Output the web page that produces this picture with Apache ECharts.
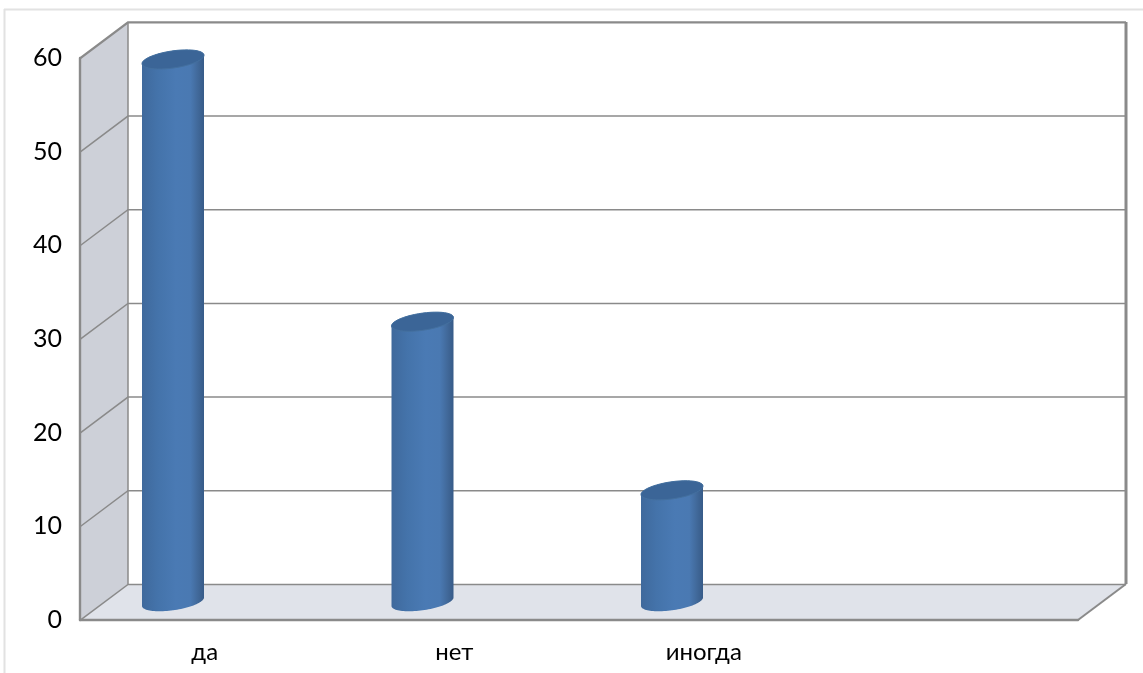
<!DOCTYPE html>
<html><head><meta charset="utf-8">
<style>html,body{margin:0;padding:0;background:#fff}#c{width:1143px;height:673px}</style>
<script src="https://cdn.jsdelivr.net/npm/echarts@6/dist/echarts.min.js"></script>
</head><body><div id="c"></div>
<script>
const categories = ['да', 'нет', 'иногда', ''];
const values = [58, 30, 12];
const yTicks = [0, 10, 20, 30, 40, 50, 60];

const depthX = 48, depthY = -36;      // oblique depth of the 3D box
const barShiftX = -31.75, barShiftY = -18.3; // bars stand mid-depth, left of band centre
const topNudge = 1;
const radiusX = 31, shearY = 4.2, radiusY = 8.6;
const LINE = '#8a8a8a';

const chart = echarts.init(document.getElementById('c'), null, {renderer: 'canvas'});

function ellipsePts(cx, cy, from, to) {
  const pts = [], n = 48;
  for (let k = 0; k <= n; k++) {
    const t = from + (to - from) * k / n;
    pts.push([cx + radiusX * Math.cos(t), cy - shearY * Math.cos(t) - radiusY * Math.sin(t)]);
  }
  return pts;
}

function renderBox(params, api) {
  const cs = params.coordSys;
  const L = cs.x, R = cs.x + cs.width, B = cs.y + cs.height;
  const T = cs.y;
  const children = [
    {type: 'polygon', shape: {points: [[L, T], [L + depthX, T + depthY], [L + depthX, B + depthY], [L, B]]},
      style: {fill: '#cdd0d8'}},
    {type: 'polygon', shape: {points: [[L, B], [L + depthX, B + depthY], [R + depthX, B + depthY], [R, B]]},
      style: {fill: '#e0e3ea'}}
  ];
  yTicks.forEach(v => {
    const y = api.coord([0, v])[1] + 0.4;
    const top = v === yTicks[yTicks.length - 1];
    children.push({type: 'polyline', shape: {points: [[L, y], [L + depthX, y + depthY], [R + depthX, y + depthY]]},
      style: {fill: 'none', stroke: LINE, lineWidth: top ? 2.4 : 1.5}});
  });
  children.push({type: 'line', shape: {x1: L + depthX, y1: T + depthY, x2: L + depthX, y2: B + depthY},
    style: {stroke: LINE, lineWidth: 1.5}});
  children.push({type: 'line', shape: {x1: R + depthX, y1: T + depthY, x2: R + depthX, y2: B + depthY},
    style: {stroke: LINE, lineWidth: 3}});
  children.push({type: 'line', shape: {x1: R, y1: B, x2: R + depthX, y2: B + depthY},
    style: {stroke: LINE, lineWidth: 2}});
  return {type: 'group', children};
}

function renderBar(params, api) {
  const top = api.coord([api.value(0), api.value(1)]);
  const base = api.coord([api.value(0), 0]);
  const cx = top[0] + barShiftX, yT = top[1] + barShiftY + topNudge, yB = base[1] + barShiftY;
  const body = ellipsePts(cx, yT, 0, Math.PI).concat(ellipsePts(cx, yB, Math.PI, 2 * Math.PI));
  const side = new echarts.graphic.LinearGradient(0, 0, 1, 0, [
    {offset: 0, color: '#3f699c'},
    {offset: 0.25, color: '#4473aa'},
    {offset: 0.55, color: '#4a7ab4'},
    {offset: 0.78, color: '#4a79b2'},
    {offset: 0.9, color: '#41699a'},
    {offset: 1, color: '#375b88'}
  ]);
  return {type: 'group', children: [
    {type: 'polygon', shape: {points: body}, style: {fill: side}},
    {type: 'polygon', shape: {points: ellipsePts(cx, yT, 0, 2 * Math.PI)},
      style: {fill: '#3b6597', stroke: '#44709f', lineWidth: 1}}
  ]};
}

chart.setOption({
  animation: false,
  backgroundColor: '#fff',
  textStyle: {fontFamily: 'Lato'},
  graphic: [
    {type: 'line', silent: true, shape: {x1: 4.5, y1: 9, x2: 4.5, y2: 673}, style: {stroke: '#e2e2e2', lineWidth: 2}},
    {type: 'line', silent: true, shape: {x1: 4, y1: 9.5, x2: 1143, y2: 9.5}, style: {stroke: '#e2e2e2', lineWidth: 2}}
  ],
  grid: {left: 80, right: 65, top: 58, bottom: 53},
  xAxis: {
    type: 'category', data: categories, z: 6,
    axisTick: {show: false},
    axisLine: {lineStyle: {color: LINE, width: 2.4}},
    axisLabel: {color: '#000', fontSize: 24, fontFamily: 'Lato', margin: 20}
  },
  yAxis: {
    type: 'value', min: 0, max: 60, interval: 10, z: 6,
    splitLine: {show: false},
    axisTick: {show: false},
    axisLine: {show: true, lineStyle: {color: LINE, width: 2.4}},
    axisLabel: {color: '#000', fontSize: 25, fontFamily: 'Lato', margin: 18, padding: [4, 0, 0, 0]}
  },
  series: [
    {type: 'custom', z: 1, silent: true, renderItem: renderBox, data: [[0, 0]], clip: false},
    {type: 'custom', z: 3, renderItem: renderBar, clip: false,
      encode: {x: 0, y: 1},
      data: values.map((v, i) => [i, v])}
  ]
});
</script></body></html>
